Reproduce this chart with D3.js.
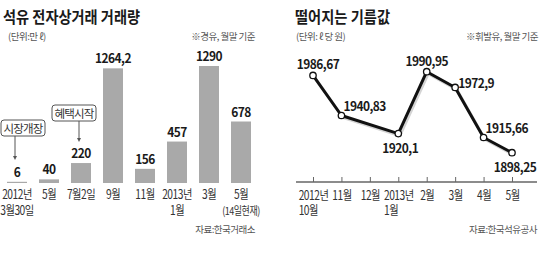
<html>
<script src='https://d3js.org/d3.v7.min.js'></script>
<style>
  body {margin: 0; background: white;}
  text {font-family: "Noto Sans CJK KR", "Noto Sans", sans-serif; fill: #2a2a2a;}
</style>
<body>
<svg width=540 height=267></svg>
<script>
// left panel: trading volume (만 l)
var barLabels = ["2012년", "5월", "7월2일", "9월", "11월", "2013년", "3월", "5월"];
var barSubLabels = ["3월30일", "", "", "", "", "1월", "", "(14일현재)"];
var barValues = [6, 40, 220, 1264.2, 156, 457, 1290, 678];

// right panel: gasoline price (원/l), no point for 12월
var lineLabels = ["2012년", "11월", "12월", "2013년", "2월", "3월", "4월", "5월"];
var lineSubLabels = ["10월", "", "", "1월", "", "", "", ""];
var lineValues = [1986.67, 1940.83, null, 1920.1, 1990.95, 1972.9, 1915.66, 1898.25];

// where each price label sits relative to its point: [dx, dy, anchor]
var labelPos = [[5, -6, "middle"], [2, -4, "start"], null, [2, 19, "middle"],
                [0, -6, "middle"], [3, 1, "start"], [2, -4, "start"], [3, 19, "middle"]];

var squeeze = "scale(0.82,1)";

function fmt(v) { return String(v).replace(".", ","); }

var svg = d3.select("svg");

// ---------- titles / notes ----------
function title(x, str, w) {
  svg.append("text").attr("x", x).attr("y", 23).text(str)
    .style("font-size", "16px").style("font-weight", "bold").style("fill", "#1a1a1a")
    .attr("textLength", w).attr("lengthAdjust", "spacingAndGlyphs");
}
function note(x, y, str, anchor) {
  svg.append("text").attr("x", x).attr("y", y).text(str)
    .attr("text-anchor", anchor || "start")
    .style("font-size", "9.5px").style("fill", "#555").style("letter-spacing", "-0.5px");
}
title(3, "석유 전자상거래 거래량", 137);
note(8, 40, "(단위:만 ℓ)");
note(255, 40, "※경유, 월말 기준", "end");
note(255, 233, "자료:한국거래소", "end");

title(295, "떨어지는 기름값", 95);
note(296, 40, "(단위: ℓ 당 원)");
note(538, 40, "※휘발유, 월말 기준", "end");
note(537, 233, "자료:한국석유공사", "end");

// ---------- bar chart ----------
var base = 183;
var xb = d3.scaleBand().domain(d3.range(barValues.length))
  .range([1, 257]).paddingInner(0.375).paddingOuter(0.1875);
var yb = d3.scaleLinear().domain([0, 1290]).range([base, 66]);

var gb = svg.append("g");
gb.selectAll("rect").data(barValues).enter().append("rect")
  .attr("x", function(d, i) { return xb(i); })
  .attr("y", function(d) { return Math.min(yb(d), base - 1.2); })
  .attr("width", xb.bandwidth())
  .attr("height", function(d) { return Math.max(base - yb(d), 1.2); })
  .style("fill", "#a9a9a9");

gb.selectAll("text.val").data(barValues).enter().append("text")
  .attr("class", "val")
  .attr("transform", function(d, i) {
    return "translate(" + (xb(i) + xb.bandwidth() / 2) + "," + (Math.min(yb(d), base - 1) - 5) + ") scale(0.92,1)";
  })
  .attr("text-anchor", "middle")
  .text(fmt)
  .style("font-size", "13px").style("font-weight", "bold").style("fill", "#1a1a1a")
  .style("letter-spacing", "-0.6px");

var xbAxis = d3.axisBottom(xb).tickSize(0).tickPadding(7)
  .tickFormat(function(i) { return barLabels[i]; });
var ga = svg.append("g").attr("transform", "translate(0," + base + ")").call(xbAxis);
ga.select(".domain").remove();
ga.selectAll("text").attr("transform", squeeze)
  .style("font-size", "12.5px").style("fill", "#333")
  .style("font-family", "'Noto Sans CJK KR'").style("letter-spacing", "-0.6px");

gb.selectAll("text.sub").data(barSubLabels).enter().append("text")
  .attr("class", "sub")
  .attr("transform", function(d, i) {
    return "translate(" + (xb(i) + xb.bandwidth() / 2) + ",215) " + squeeze;
  })
  .attr("text-anchor", "middle")
  .text(function(d) { return d; })
  .style("font-size", function(d) { return d.charAt(0) == "(" ? "11px" : "12.5px"; })
  .style("fill", "#333").style("letter-spacing", "-0.6px");

// call-out boxes with arrows
var notes = [{i: 0, text: "시장개장", top: 120, shift: 8, tip: 160},
             {i: 2, text: "혜택시작", top: 105, shift: -5, tip: 142}];
notes.forEach(function(n) {
  var cx = xb(n.i) + xb.bandwidth() / 2 - 2;
  var g = svg.append("g");
  g.append("rect").attr("x", cx + n.shift - 22).attr("y", n.top)
    .attr("width", 44).attr("height", 16).attr("rx", 3)
    .style("fill", "white").style("stroke", "#555").style("stroke-width", 1);
  g.append("text").attr("x", cx + n.shift).attr("y", n.top + 12.5)
    .attr("text-anchor", "middle").text(n.text)
    .style("font-size", "11.5px").style("fill", "#333").style("letter-spacing", "-0.8px");
  g.append("line").attr("x1", cx).attr("x2", cx).attr("y1", n.top + 16).attr("y2", n.tip - 3)
    .style("stroke", "#555").style("stroke-width", 1);
  g.append("path").attr("d", "M" + (cx - 2) + "," + (n.tip - 4) + "L" + (cx + 2) + "," + (n.tip - 4) + "L" + cx + "," + n.tip + "Z")
    .style("fill", "#555");
});

// ---------- line chart ----------
var axisY = 182;
var xl = d3.scalePoint().domain(d3.range(lineValues.length)).range([313, 512]);
var yl = d3.scaleLinear().domain([1898.25, 1990.95]).range([152.7, 71.7]);

svg.append("line").attr("x1", 296).attr("x2", 537).attr("y1", axisY).attr("y2", axisY)
  .style("stroke", "#666").style("stroke-width", 1.5);

var xlAxis = d3.axisBottom(xl).tickSizeInner(-5).tickSizeOuter(0).tickPadding(9)
  .tickFormat(function(i) { return lineLabels[i]; });
var gl = svg.append("g").attr("transform", "translate(0," + axisY + ")").call(xlAxis);
gl.select(".domain").remove();
gl.selectAll("line").style("stroke", "#666");
gl.selectAll("text").attr("transform", squeeze)
  .style("font-size", "12.5px").style("fill", "#333")
  .style("font-family", "'Noto Sans CJK KR'").style("letter-spacing", "-0.6px");

// second line of tick labels, left aligned with the first line
gl.selectAll(".tick").each(function(i) {
  if (!lineSubLabels[i]) return;
  var t = d3.select(this).select("text");
  var w = t.node().getComputedTextLength();
  d3.select(this).append("text").attr("x", -w / 2).attr("y", 33)
    .attr("transform", squeeze).attr("text-anchor", "start")
    .text(lineSubLabels[i])
    .style("font-size", "12.5px").style("fill", "#333").style("letter-spacing", "-0.6px");
});

var pts = lineValues.map(function(v, i) { return {i: i, v: v}; })
  .filter(function(d) { return d.v != null; });

var line = d3.line()
  .x(function(d) { return xl(d.i); })
  .y(function(d) { return yl(d.v); });

svg.append("path").datum(pts).attr("d", line)
  .attr("transform", "translate(1.5,2)")
  .style("fill", "none").style("stroke", "#d4d4d4").style("stroke-width", 3);
svg.append("path").datum(pts).attr("d", line)
  .style("fill", "none").style("stroke", "#111").style("stroke-width", 3)
  .style("stroke-linejoin", "round");

svg.selectAll("circle").data(pts).enter().append("circle")
  .attr("cx", function(d) { return xl(d.i); })
  .attr("cy", function(d) { return yl(d.v); })
  .attr("r", 3.2)
  .style("fill", "white").style("stroke", "#111").style("stroke-width", 1.3);

svg.selectAll("text.pv").data(pts).enter().append("text")
  .attr("class", "pv")
  .attr("transform", function(d) {
    return "translate(" + (xl(d.i) + labelPos[d.i][0]) + "," + (yl(d.v) + labelPos[d.i][1]) + ") scale(0.92,1)";
  })
  .attr("text-anchor", function(d) { return labelPos[d.i][2]; })
  .text(function(d) { return fmt(d.v); })
  .style("font-size", "13px").style("font-weight", "bold").style("fill", "#1a1a1a")
  .style("letter-spacing", "-0.6px");
</script>
</body>
</html>
